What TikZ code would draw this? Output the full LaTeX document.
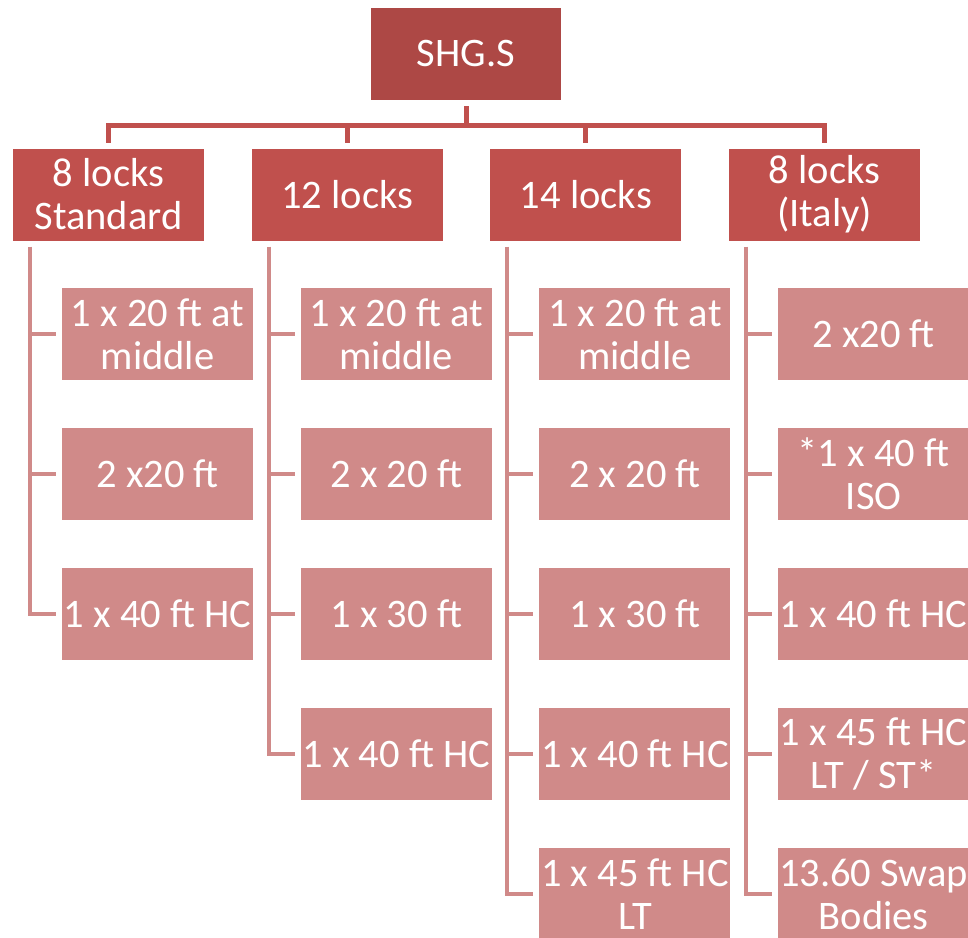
\documentclass[tikz,border=0pt]{standalone}
\usepackage{fontspec}
\setmainfont{Carlito}
\definecolor{rootred}{HTML}{AD4845}
\definecolor{lockred}{HTML}{C0504D}
\definecolor{optred}{HTML}{D08A89}
\begin{document}
\begin{tikzpicture}[x=1pt, y=-1pt,
	box/.style={rectangle, minimum width=191pt, minimum height=92pt, inner sep=0pt, outer sep=6pt, text=white, align=center, font=\fontsize{40.5}{43}\selectfont},
	rootbox/.style={box, minimum width=190pt, fill=rootred},
	lockbox/.style={box, fill=lockred},
	optbox/.style={box, fill=optred},
	topline/.style={draw=lockred, line width=5pt},
	optline/.style={draw=optred, line width=4pt}]
			\useasboundingbox (0,0) rectangle (968,937);
			\pgfmathsetmacro{\dx}{238.7}
			\pgfmathsetmacro{\dy}{140}
			\node[rootbox] (root) at (466,54) {SHG.S};
			\node[lockbox] (std) at (108.5,194.5) {8 locks\\Standard};
			\node[lockbox] (twelve) at (108.5+1*\dx,194.5) {12 locks};
			\node[lockbox] (fourteen) at (108.5+2*\dx,194.5) {14 locks};
			\node[lockbox] (italy) at (108.5+3*\dx,194.5) {8 locks\\(Italy)};
			\coordinate (bar) at (0,125);
			\draw[topline] (root) -- (root |- bar);
			\draw[topline] (std) -- (std |- bar) -- (italy |- bar) -- (italy);
			\draw[topline] (twelve |- bar) -- (twelve);
			\draw[topline] (fourteen |- bar) -- (fourteen);
			% 8 locks standard
			\node[optbox] (std1) at (157.5,334) {1 x 20 ft at\\middle};
			\node[optbox] (std2) at (157.5,334+1*\dy) {2 x20 ft};
			\node[optbox] (std3) at (157.5,334+2*\dy) {1 x 40 ft HC};
			% 12 locks
			\node[optbox] (twelve1) at (157.5+1*\dx,334) {1 x 20 ft at\\middle};
			\node[optbox] (twelve2) at (157.5+1*\dx,334+1*\dy) {2 x 20 ft};
			\node[optbox] (twelve3) at (157.5+1*\dx,334+2*\dy) {1 x 30 ft};
			\node[optbox] (twelve4) at (157.5+1*\dx,334+3*\dy) {1 x 40 ft HC};
			% 14 locks
			\node[optbox] (fourteen1) at (157.5+2*\dx,334) {1 x 20 ft at\\middle};
			\node[optbox] (fourteen2) at (157.5+2*\dx,334+1*\dy) {2 x 20 ft};
			\node[optbox] (fourteen3) at (157.5+2*\dx,334+2*\dy) {1 x 30 ft};
			\node[optbox] (fourteen4) at (157.5+2*\dx,334+3*\dy) {1 x 40 ft HC};
			\node[optbox] (fourteen5) at (157.5+2*\dx,334+4*\dy) {1 x 45 ft HC\\LT};
			% 8 locks italy
			\node[optbox] (italy1) at (157.5+3*\dx,334) {2 x20 ft};
			\node[optbox] (italy2) at (157.5+3*\dx,334+1*\dy) {*1 x 40 ft\\ISO};
			\node[optbox] (italy3) at (157.5+3*\dx,334+2*\dy) {1 x 40 ft HC};
			\node[optbox] (italy4) at (157.5+3*\dx,334+3*\dy) {1 x 45 ft HC\\LT / ST*};
			\node[optbox] (italy5) at (157.5+3*\dx,334+4*\dy) {13.60 Swap\\Bodies};
			% branches
			\coordinate (stdtrunk) at ([xshift=-78.5pt]std.south);
			\coordinate (twelvetrunk) at ([xshift=-78.5pt]twelve.south);
			\coordinate (fourteentrunk) at ([xshift=-78.5pt]fourteen.south);
			\coordinate (italytrunk) at ([xshift=-78.5pt]italy.south);
			\draw[optline] (stdtrunk) |- (std3);
			\draw[optline] (stdtrunk |- std1) -- (std1);
			\draw[optline] (stdtrunk |- std2) -- (std2);
			\draw[optline] (twelvetrunk) |- (twelve4);
			\draw[optline] (twelvetrunk |- twelve1) -- (twelve1);
			\draw[optline] (twelvetrunk |- twelve2) -- (twelve2);
			\draw[optline] (twelvetrunk |- twelve3) -- (twelve3);
			\draw[optline] (fourteentrunk) |- (fourteen5);
			\draw[optline] (fourteentrunk |- fourteen1) -- (fourteen1);
			\draw[optline] (fourteentrunk |- fourteen2) -- (fourteen2);
			\draw[optline] (fourteentrunk |- fourteen3) -- (fourteen3);
			\draw[optline] (fourteentrunk |- fourteen4) -- (fourteen4);
			\draw[optline] (italytrunk) |- (italy5);
			\draw[optline] (italytrunk |- italy1) -- (italy1);
			\draw[optline] (italytrunk |- italy2) -- (italy2);
			\draw[optline] (italytrunk |- italy3) -- (italy3);
			\draw[optline] (italytrunk |- italy4) -- (italy4);
			\end{tikzpicture}
\end{document}
